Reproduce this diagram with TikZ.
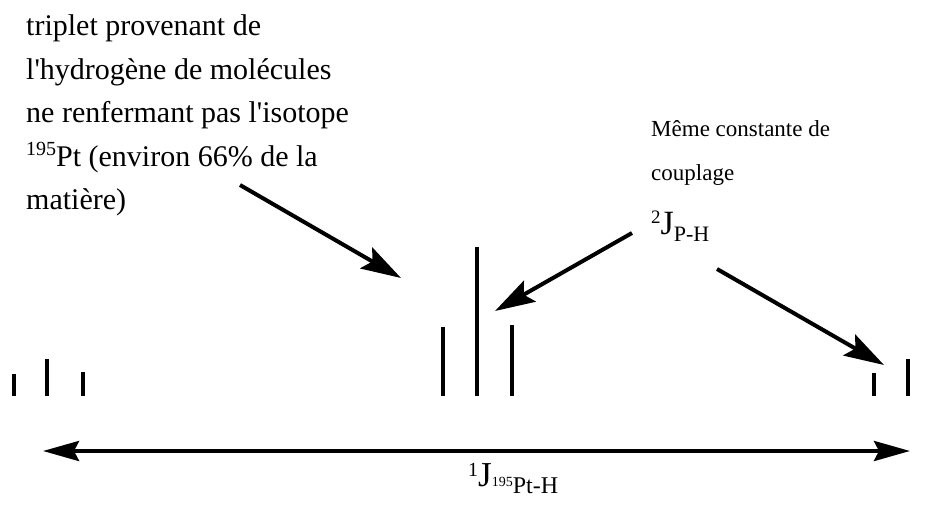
\documentclass[tikz,border=0pt]{standalone}
\usepackage{fontspec}
\setmainfont{Liberation Serif}
\usetikzlibrary{arrows.meta, positioning}

\begin{document}
\begin{tikzpicture}[x=1pt, y=-1pt,
    peak/.style={line width=3.5pt},
    callout/.style={line width=4pt, -{Stealth[length=40pt, width=24pt, inset=7pt]}},
    span/.style={line width=4pt, {Stealth[length=36pt, width=20pt, inset=5pt]}-{Stealth[length=36pt, width=20pt, inset=5pt]}}]
  \useasboundingbox (0,0) rectangle (937,513);
  % Spectrum lines
  \foreach \px/\ptop in {14/374, 47/359, 83/372, 443/327, 477/247, 512/325, 874/373, 908/359}
    \draw[peak] (\px,396) -- (\px,\ptop);
  % Labels
  \node[anchor=base west, inner sep=0pt, align=left, font=\fontsize{30}{43.5}\selectfont] (triplet) at (26,210)
    {triplet provenant de\\l\textquotesingle hydrogène de molécules\\ne renfermant pas l\textquotesingle isotope\\\raisebox{11pt}{\fontsize{20}{20}\selectfont 195}Pt (environ 66\% de la\\matière)};
  \node[anchor=base west, inner sep=0pt, align=left, font=\fontsize{23}{44}\selectfont] (meme) at (651,181)
    {Même constante de\\couplage};
  \node[anchor=base west, inner sep=0pt] (jph) at (651,235)
    {\raisebox{11pt}{\fontsize{19}{19}\selectfont 2}\fontsize{34}{36}\selectfont J\raisebox{-7pt}{\fontsize{22}{22}\selectfont P-H}};
  \node[anchor=base west, inner sep=0pt] (jpt) at (468,486)
    {\raisebox{10pt}{\fontsize{20}{20}\selectfont 1}\fontsize{35}{36}\selectfont J{\fontsize{14}{14}\selectfont 195}\raisebox{-7pt}{\fontsize{24}{24}\selectfont Pt-H}};
  % Arrows
  \coordinate (tripletTail) at (240,185);
  \coordinate (tripletTip) at (401,278);
  \coordinate (centreTail) at (632,233);
  \coordinate (centreTip) at (495,311);
  \coordinate (rightTail) at (717,269);
  \coordinate (rightTip) at (884,365);
  \coordinate (spanL) at (43,451);
  \coordinate (spanR) at (910,451);
  \draw[callout] (tripletTail) -- (tripletTip);
  \draw[callout] (centreTail) -- (centreTip);
  \draw[callout] (rightTail) -- (rightTip);
  \draw[span] (spanL) -- (spanR);
\end{tikzpicture}
\end{document}
